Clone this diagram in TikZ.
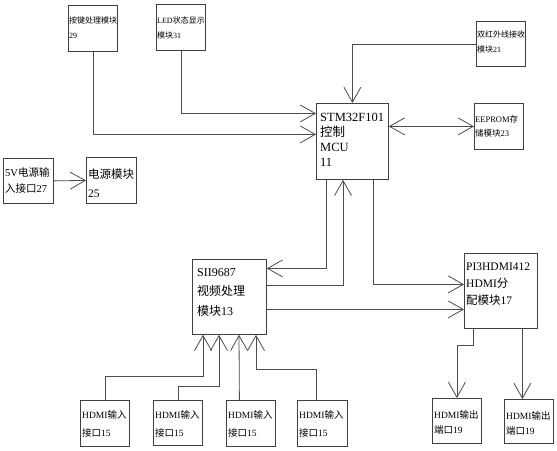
\documentclass[tikz,border=0pt]{standalone}
\usepackage{fontspec}
\setmainfont{Liberation Serif}
\newfontfamily\cjk{Noto Sans CJK SC}
\usetikzlibrary{arrows.meta}

\newcommand\fs[2]{\fontsize{#1}{#2}\selectfont}

\tikzset{
  blk/.style={draw=black!75,line width=0.8pt,anchor=north west,minimum width=49pt,minimum height=46pt,inner sep=0pt},
  txt/.style={anchor=north west,inner xsep=2pt,inner ysep=2pt,yshift=-6pt,align=left},
  wire/.style={draw=black!70,line width=0.8pt},
  arr/.style={wire,-{Straight Barb[length=15pt,width=17pt]}},
  arrs/.style={wire,{Straight Barb[length=15pt,width=17pt]}-{Straight Barb[length=15pt,width=17pt]}},
}

\begin{document}
\begin{tikzpicture}[x=1pt,y=-1pt]
\useasboundingbox (0,0) rectangle (557,450);

% top row
\node[blk,label={[txt,inner xsep=1pt,yshift=-4pt,font=\fs{8}{15}]north west:{\cjk 按键处理模块}\\29}] (key) at (68,5) {};
\node[blk,label={[txt,inner xsep=1pt,yshift=-5pt,font=\fs{8}{15}]north west:LED{\cjk 状态显示}\\{\cjk 模块}31}] (led) at (156,4) {};
\node[blk,minimum height=45pt,label={[txt,inner xsep=1pt,yshift=-2pt,font=\fs{8}{15}]north west:{\cjk 双红外线接收}\\{\cjk 模块}21}] (ir) at (476,21) {};

% controller
\node[blk,minimum width=72pt,minimum height=76pt,label={[txt,inner xsep=4pt,yshift=-2pt,font=\fs{12.5}{15}]north west:STM32F101\\{\cjk 控制}\\MCU\\11}] (mcu) at (316,103) {};
\node[blk,label={[txt,inner xsep=1pt,yshift=-4pt,font=\fs{8.5}{14}]north west:EEPROM{\cjk 存}\\{\cjk 储模块}23}] (eeprom) at (474,103) {};

% power
\node[blk,minimum width=50pt,minimum height=45pt,label={[txt,yshift=-1pt,font=\fs{10.5}{16}]north west:5V{\cjk 电源输}\\{\cjk 入接口}27}] (pwrin) at (3,158) {};
\node[blk,minimum width=50pt,label={[txt,yshift=-4pt,font=\fs{11.5}{19}]north west:{\cjk 电源模块}\\25}] (pwr) at (86,157) {};

% video path
\node[blk,minimum width=74pt,minimum height=75pt,label={[txt,inner xsep=5pt,yshift=-1pt,font=\fs{12}{19.5}]north west:SII9687\\{\cjk 视频处理}\\{\cjk 模块}13}] (sii) at (192,259) {};
\node[blk,minimum width=73pt,minimum height=75pt,label={[txt,yshift=-2pt,font=\fs{11.5}{17}]north west:PI3HDMI412\\HDMI{\cjk 分}\\{\cjk 配模块}17}] (pi3) at (464,253) {};

% ports
\node[blk,label={[txt,yshift=-2pt,font=\fs{9.5}{18}]north west:HDMI{\cjk 输入}\\{\cjk 接口}15}] (in1) at (80,400) {};
\node[blk,minimum height=45pt,label={[txt,yshift=-2pt,font=\fs{9.5}{18}]north west:HDMI{\cjk 输入}\\{\cjk 接口}15}] (in2) at (153,400) {};
\node[blk,label={[txt,yshift=-2pt,font=\fs{9.5}{18}]north west:HDMI{\cjk 输入}\\{\cjk 接口}15}] (in3) at (226,400) {};
\node[blk,minimum width=50pt,label={[txt,yshift=-2pt,font=\fs{9.5}{18}]north west:HDMI{\cjk 输入}\\{\cjk 接口}15}] (in4) at (297,400) {};
\node[blk,minimum height=45pt,label={[txt,yshift=-4pt,font=\fs{9.5}{15}]north west:HDMI{\cjk 输出}\\{\cjk 端口}19}] (out1) at (432,398) {};
\node[blk,minimum height=44pt,label={[txt,yshift=-4pt,font=\fs{9.5}{15}]north west:HDMI{\cjk 输出}\\{\cjk 端口}19}] (out2) at (504,399) {};

% connectors to the MCU
\draw[arr] (key.south) |- ([yshift=7pt]mcu.west);
\draw[arr] (led.south) |- ([yshift=28pt]mcu.west);
\draw[arr] (ir.west) -| (mcu.north);
\draw[arrs] (eeprom.west -| mcu.east) -- (eeprom.west);
\draw[arr] (pwrin.east) -- (pwr.west);

% MCU, SII9687 and PI3HDMI412
\draw[arr] ([xshift=10pt]mcu.south west) |- ([yshift=28.5pt]sii.east);
\draw[arr] ([yshift=11.5pt]sii.east) -| ([xshift=27pt]mcu.south west);
\draw[arr] ([xshift=57pt]mcu.south west) |- ([yshift=6.5pt]pi3.west);
\draw[arr] ([yshift=-12.5pt]sii.east) -- ([yshift=-12.5pt]sii.east -| pi3.west);

% outputs
\draw[arr] ([xshift=9pt]pi3.south west) -- ++(0,17) -| (out1.north);
\draw[arr] ([xshift=-6.5pt]out2.north |- pi3.south) -- ([xshift=-6.5pt]out2.north);

% inputs
\draw[arr] (in1.north) -- ++(0,-24) -| ([xshift=11pt]sii.south west);
\draw[arr] (in2.north) -- ++(0,-14) -| ([xshift=27pt]sii.south west);
\draw[arr] ([xshift=-11.5pt]in3.north) -- ([xshift=47pt]sii.south west);
\draw[arr] ([xshift=-6pt]in4.north) -- ++(0,-31) -| ([xshift=64pt]sii.south west);
\end{tikzpicture}
\end{document}
